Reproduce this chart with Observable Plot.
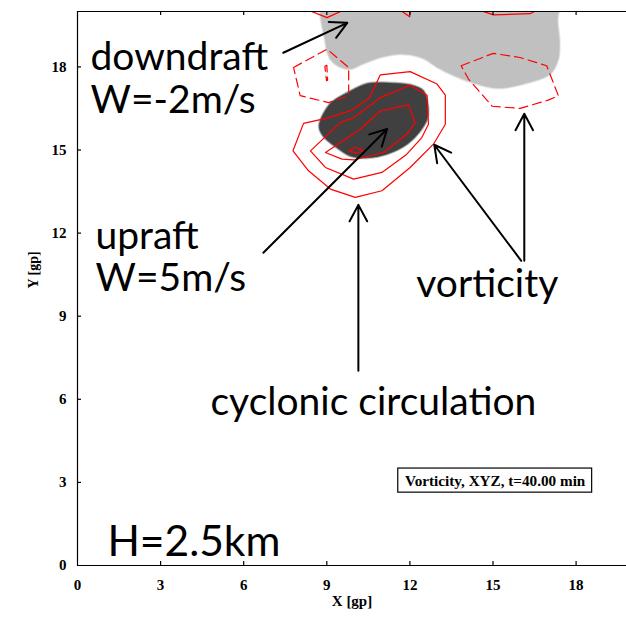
<!DOCTYPE html>
<html><head><meta charset="utf-8">
<script src="https://cdn.jsdelivr.net/npm/d3@7"></script>
<script src="https://cdn.jsdelivr.net/npm/@observablehq/plot@0.6"></script>
<style>html,body{margin:0;padding:0;background:#fff;overflow:hidden}</style>
</head><body><div id="chart"></div>
<script>
// ---- data (grid points, gp) ----
const xTicks = [0, 3, 6, 9, 12, 15, 18];
const yTicks = [0, 3, 6, 9, 12, 15, 18];
const xMax = 19.82, yMax = 20;

// downdraft region W = -2 m/s (light gray)
const downdraftRegion = [[8.95,20.6],[8.95,18.94],[9.13,18.29],[9.49,18.0],[9.85,17.93],[10.28,18.11],[10.97,18.36],[11.76,18.47],[12.45,18.33],[13.10,17.93],[14.07,17.50],[15.15,17.24],[16.09,17.39],[17.06,17.75],[17.35,18.29],[17.39,18.94],[17.32,19.66],[17.32,20.6]];
// updraft region W = 5 m/s (dark gray)
const updraftRegion = [[8.73,15.87],[9.13,16.67],[9.74,17.06],[10.46,17.39],[11.18,17.42],[12.01,17.35],[12.48,17.14],[12.63,16.70],[12.63,16.16],[12.37,15.69],[11.90,15.22],[11.18,14.86],[10.46,14.72],[9.85,14.79],[9.38,15.08],[8.87,15.51]];

// positive vorticity contours (solid)
const vortPos1 = [[10.93,17.71],[12.01,17.83],[12.98,17.38],[13.28,16.98],[13.28,15.93],[12.85,15.21],[12.01,14.37],[10.99,13.53],[10.03,13.29],[9.13,13.59],[8.34,14.25],[7.78,14.97],[8.16,15.96],[9.01,16.15],[9.91,16.44],[10.54,16.89]];
const vortPos2 = [[8.41,14.97],[8.95,14.37],[9.97,13.95],[10.99,14.19],[11.89,14.85],[12.43,15.45],[12.67,15.93],[12.62,16.98],[12.01,17.34],[10.93,16.89],[9.97,16.17],[9.49,15.99]];
const vortPos3 = [[8.95,14.91],[10.21,15.75],[10.93,16.41],[11.95,16.63],[12.19,15.99],[11.89,15.57],[11.05,14.91],[9.97,14.64],[9.55,14.67]];
const vortPos4 = [[9.79,14.97],[10.03,15.10],[10.33,14.97],[10.09,14.89]];
const vortTopA = [[8.2,20.1],[9.01,19.78],[9.6,20.05]];
const vortTopB = [[11.65,20.05],[11.99,19.81],[12.02,20.1]];
const vortTopC = [[14.5,20.05],[15.02,19.88],[16.34,19.92],[16.6,20.05]];
// negative vorticity contours (dashed)
const vortNegLeft = [[7.80,17.98],[9.01,18.64],[9.79,17.98],[9.79,16.96],[9.07,16.71],[8.04,16.96]];
const vortNegLeftInner = [[8.93,18.02],[9.0,18.06],[9.03,17.52],[8.99,17.5]];
const vortNegRight = [[13.85,18.04],[15.01,18.49],[15.98,18.34],[16.94,18.04],[17.36,16.96],[16.99,16.80],[15.98,16.50],[14.97,16.58],[14.11,17.57]];

// annotation arrows
const arrows = [
  {x1: 7.43, y1: 18.51, x2: 9.74, y2: 19.59},
  {x1: 6.71, y1: 11.29, x2: 11.18, y2: 15.76},
  {x1: 16.02, y1: 11.0, x2: 12.88, y2: 15.19},
  {x1: 16.13, y1: 11.0, x2: 16.13, y2: 16.31},
  {x1: 10.14, y1: 7.03, x2: 10.14, y2: 13.02}
];
// annotation texts
const notes = [
  {x: 0.47, y: 17.89, text: "downdraft"},
  {x: 0.47, y: 16.34, text: "W=-2m/s"},
  {x: 0.65, y: 11.44, text: "upraft"},
  {x: 0.65, y: 9.92, text: "W=5m/s"},
  {x: 12.23, y: 9.70, text: "vorticity"},
  {x: 4.80, y: 5.45, text: "cyclonic circulation"}
];
const heightNote = [{x: 1.08, y: 0.36, text: "H=2.5km"}];
const titleBox = {x1: 11.58, x2: 18.58, y1: 2.63, y2: 3.50, x: 15.08, y: 3.06, text: "Vorticity, XYZ, t=40.00 min"};

// ---- layout ----
const W = 626, H = 620, mL = 77, mR = 0, mT = 11, mB = 55;
const ky = (H - mT - mB) / yMax, kx = (W - mL - mR) / xMax;
const tLy = 4 / ky, tLx = 4 / kx;
const inner = xTicks.filter(t => t > 0);
const innerY = yTicks.filter(t => t > 0);
const red = "#ff0000";

const contour = (pts, opts = {}) => Plot.line(pts, {x: d => d[0], y: d => d[1], stroke: red, strokeWidth: 1.2, curve: "linear-closed", clip: true, ...opts});
const region = (pts, color) => [
  Plot.line(pts, {x: d => d[0], y: d => d[1], fill: "none", stroke: color, strokeOpacity: 0.35, strokeWidth: 3, curve: "catmull-rom-closed", clip: true}),
  Plot.line(pts, {x: d => d[0], y: d => d[1], fill: color, stroke: color, strokeOpacity: 0.6, strokeWidth: 1.2, curve: "catmull-rom-closed", clip: true})
];

const plot = Plot.plot({
  width: W, height: H,
  marginLeft: mL, marginRight: mR, marginTop: mT, marginBottom: mB,
  x: {domain: [0, xMax]},
  y: {domain: [0, yMax]},
  style: {fontFamily: "'Liberation Serif', serif", background: "#fff", color: "#000"},
  marks: [
    ...region(downdraftRegion, "#c0c0c0"),
    ...region(updraftRegion, "#404040"),
    contour(vortPos1), contour(vortPos2), contour(vortPos3), contour(vortPos4),
    contour(vortTopA, {curve: "linear"}), contour(vortTopB, {curve: "linear"}), contour(vortTopC, {curve: "linear"}),
    contour(vortNegLeft, {strokeDasharray: "9,5"}),
    contour(vortNegLeftInner, {strokeDasharray: "9,5"}),
    contour(vortNegRight, {strokeDasharray: "9,5"}),
    // frame (left, bottom, top)
    Plot.ruleX([0], {stroke: "#000", strokeWidth: 1.2}),
    Plot.ruleY([0, yMax], {stroke: "#000", strokeWidth: 1.2}),
    // inward ticks
    Plot.ruleX(inner, {y1: 0, y2: tLy, stroke: "#000", strokeWidth: 1.2}),
    Plot.ruleX(inner, {y1: yMax, y2: yMax - tLy, stroke: "#000", strokeWidth: 1.2}),
    Plot.ruleY(innerY, {x1: 0, x2: tLx, stroke: "#000", strokeWidth: 1.2}),
    Plot.axisX(xTicks, {anchor: "bottom", tickSize: 0, tickPadding: 14, fontSize: 15, fontWeight: "bold", fill: "#000"}),
    Plot.axisY(yTicks, {anchor: "left", tickSize: 0, tickPadding: 11, fontSize: 15, fontWeight: "bold", fill: "#000"}),
    Plot.text(["X [gp]"], {frameAnchor: "bottom", dy: 40, fontSize: 15, fontWeight: "bold", fill: "#000"}),
    Plot.text(["Y [gp]"], {frameAnchor: "left", dx: -44, rotate: -90, fontSize: 14, fontWeight: "bold", fill: "#000"}),
    // annotations
    Plot.arrow(arrows, {x1: "x1", y1: "y1", x2: "x2", y2: "y2", stroke: "#000", strokeWidth: 2, headLength: 14, headAngle: 56}),
    Plot.text(notes, {x: "x", y: "y", text: "text", textAnchor: "start", lineAnchor: "bottom", fontSize: 39, fontFamily: "Lato", fill: "#000"}),
    Plot.text(heightNote, {x: "x", y: "y", text: "text", textAnchor: "start", lineAnchor: "bottom", fontSize: 42.5, fontFamily: "Lato", fill: "#000"}),
    Plot.rect([titleBox], {x1: "x1", x2: "x2", y1: "y1", y2: "y2", fill: "#fff", stroke: "#000", strokeWidth: 1.2}),
    Plot.text([titleBox], {x: "x", y: "y", text: "text", fontSize: 15.2, fontWeight: "bold", fill: "#000"})
  ]
});

document.getElementById("chart").append(plot);
</script>
</body></html>
